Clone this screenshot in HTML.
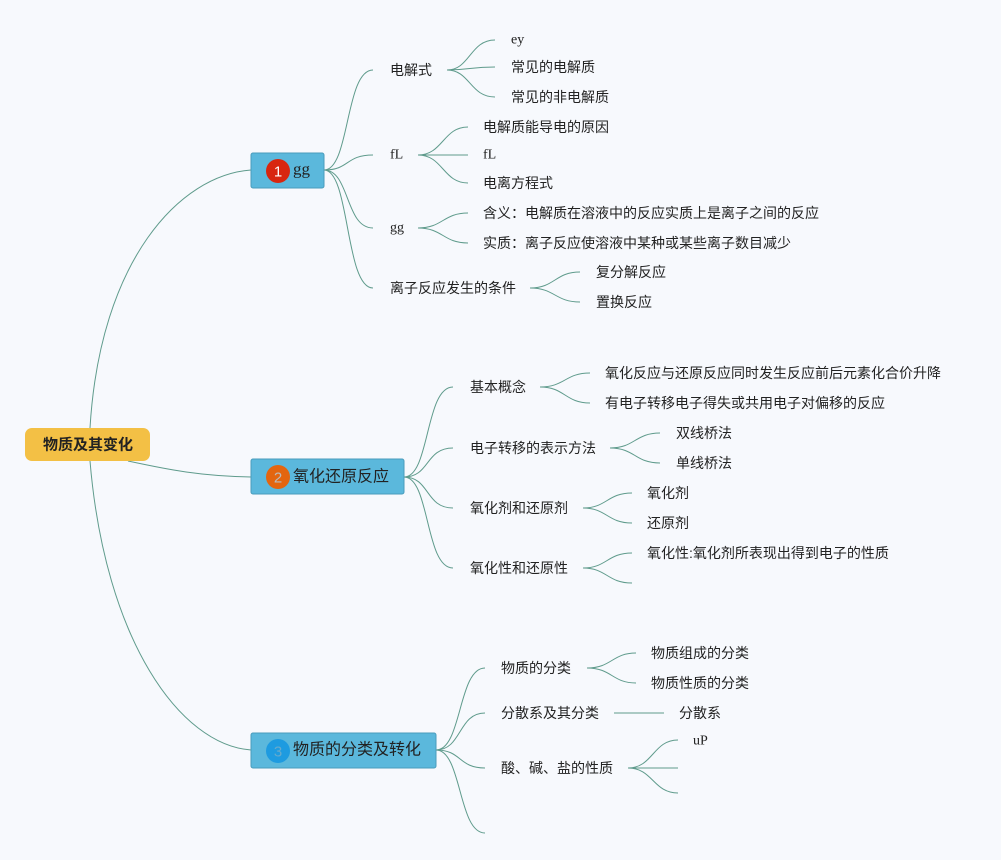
<!DOCTYPE html>
<html><head><meta charset="utf-8"><style>
body{margin:0;background:#f7f9fd;}
svg{display:block}
text{font-family:"Liberation Sans","Noto Sans CJK SC",sans-serif;font-size:14px;fill:#222;dominant-baseline:central}
path{fill:none;stroke:#5f9b8c;stroke-width:1}
</style></head><body>
<svg width="1001" height="860" viewBox="0 0 1001 860">
<rect width="1001" height="860" fill="#f7f9fd"/>
<path d="M90 428 C100 260,180 175,251 170"/>
<path d="M90 461 C105 640,180 745,251 750"/>
<path d="M128 461 C170 470,200 476,251 477"/>
<path d="M324 170 C350 170,345 70,373 70"/>
<path d="M324 170 C350 170,345 155,373 155"/>
<path d="M324 170 C350 170,345 228,373 228"/>
<path d="M324 170 C350 170,345 288,373 288"/>
<path d="M447 70 C470 70,470 40,495 40"/><path d="M447 70 C470 70,470 67,495 67"/><path d="M447 70 C470 70,470 97,495 97"/>
<path d="M418 155 C443 155,443 127,468 127"/><path d="M418 155 L468 155"/><path d="M418 155 C443 155,443 183,468 183"/>
<path d="M418 228 C443 228,443 213,468 213"/><path d="M418 228 C443 228,443 243,468 243"/>
<path d="M530 288 C555 288,555 272,580 272"/><path d="M530 288 C555 288,555 302,580 302"/>
<path d="M404 477 C430 477,425 387,453 387"/>
<path d="M404 477 C430 477,425 448,453 448"/>
<path d="M404 477 C430 477,425 508,453 508"/>
<path d="M404 477 C430 477,425 568,453 568"/>
<path d="M540 387 C565 387,565 373,590 373"/><path d="M540 387 C565 387,565 403,590 403"/>
<path d="M610 448 C635 448,635 433,660 433"/><path d="M610 448 C635 448,635 463,660 463"/>
<path d="M583 508 C607 508,607 493,632 493"/><path d="M583 508 C607 508,607 523,632 523"/>
<path d="M583 568 C607 568,607 553,632 553"/><path d="M583 568 C607 568,607 583,632 583"/>
<path d="M436 750 C462 750,458 668,485 668"/>
<path d="M436 750 C462 750,458 713,485 713"/>
<path d="M436 750 C462 750,458 768,485 768"/>
<path d="M436 750 C462 750,458 833,485 833"/>
<path d="M587 668 C612 668,612 653,636 653"/><path d="M587 668 C612 668,612 683,636 683"/>
<path d="M614 713 L664 713"/>
<path d="M628 768 C653 768,653 740,678 740"/><path d="M628 768 L678 768"/><path d="M628 768 C653 768,653 793,678 793"/>
<rect x="25" y="428" width="125" height="33" rx="7" fill="#f3c045"/>
<text x="88" y="445" text-anchor="middle" style="font-weight:bold;font-size:15px">物质及其变化</text>
<rect x="251" y="153" width="73" height="35" rx="2" fill="#5bb8dc" stroke="#4a9cbc"/>
<circle cx="278" cy="171" r="12" fill="#d8260f"/>
<text x="278" y="172" text-anchor="middle" style="fill:#fff;font-size:15px">1</text>
<text x="293" y="169" style="font-size:17px;font-family:'Liberation Serif',serif">gg</text>
<rect x="251" y="459" width="153" height="35" rx="2" fill="#5bb8dc" stroke="#4a9cbc"/>
<circle cx="278" cy="477" r="12" fill="#e3650f"/>
<text x="278" y="478" text-anchor="middle" style="fill:#bbb;font-size:15px">2</text>
<text x="293" y="477" style="font-size:16px">氧化还原反应</text>
<rect x="251" y="733" width="185" height="35" rx="2" fill="#5bb8dc" stroke="#4a9cbc"/>
<circle cx="278" cy="751" r="12" fill="#1e9be0"/>
<text x="278" y="752" text-anchor="middle" style="fill:#6ac;font-size:15px">3</text>
<text x="293" y="750" style="font-size:16px">物质的分类及转化</text>
<text x="390" y="70">电解式</text>
<text x="390" y="155" style="font-family:'Liberation Serif',serif">fL</text>
<text x="390" y="228" style="font-family:'Liberation Serif',serif">gg</text>
<text x="390" y="288">离子反应发生的条件</text>
<text x="511" y="40" style="font-family:'Liberation Serif',serif">ey</text>
<text x="511" y="67">常见的电解质</text>
<text x="511" y="97">常见的非电解质</text>
<text x="483" y="127">电解质能导电的原因</text>
<text x="483" y="155" style="font-family:'Liberation Serif',serif">fL</text>
<text x="483" y="183">电离方程式</text>
<text x="483" y="213">含义：电解质在溶液中的反应实质上是离子之间的反应</text>
<text x="483" y="243">实质：离子反应使溶液中某种或某些离子数目减少</text>
<text x="596" y="272">复分解反应</text>
<text x="596" y="302">置换反应</text>
<text x="470" y="387">基本概念</text>
<text x="470" y="448">电子转移的表示方法</text>
<text x="470" y="508">氧化剂和还原剂</text>
<text x="470" y="568">氧化性和还原性</text>
<text x="605" y="373">氧化反应与还原反应同时发生反应前后元素化合价升降</text>
<text x="605" y="403">有电子转移电子得失或共用电子对偏移的反应</text>
<text x="676" y="433">双线桥法</text>
<text x="676" y="463">单线桥法</text>
<text x="647" y="493">氧化剂</text>
<text x="647" y="523">还原剂</text>
<text x="647" y="553">氧化性:氧化剂所表现出得到电子的性质</text>
<text x="501" y="668">物质的分类</text>
<text x="501" y="713">分散系及其分类</text>
<text x="501" y="768">酸、碱、盐的性质</text>
<text x="651" y="653">物质组成的分类</text>
<text x="651" y="683">物质性质的分类</text>
<text x="679" y="713">分散系</text>
<text x="693" y="741" style="font-family:'Liberation Serif',serif">uP</text>
</svg>
</body></html>
